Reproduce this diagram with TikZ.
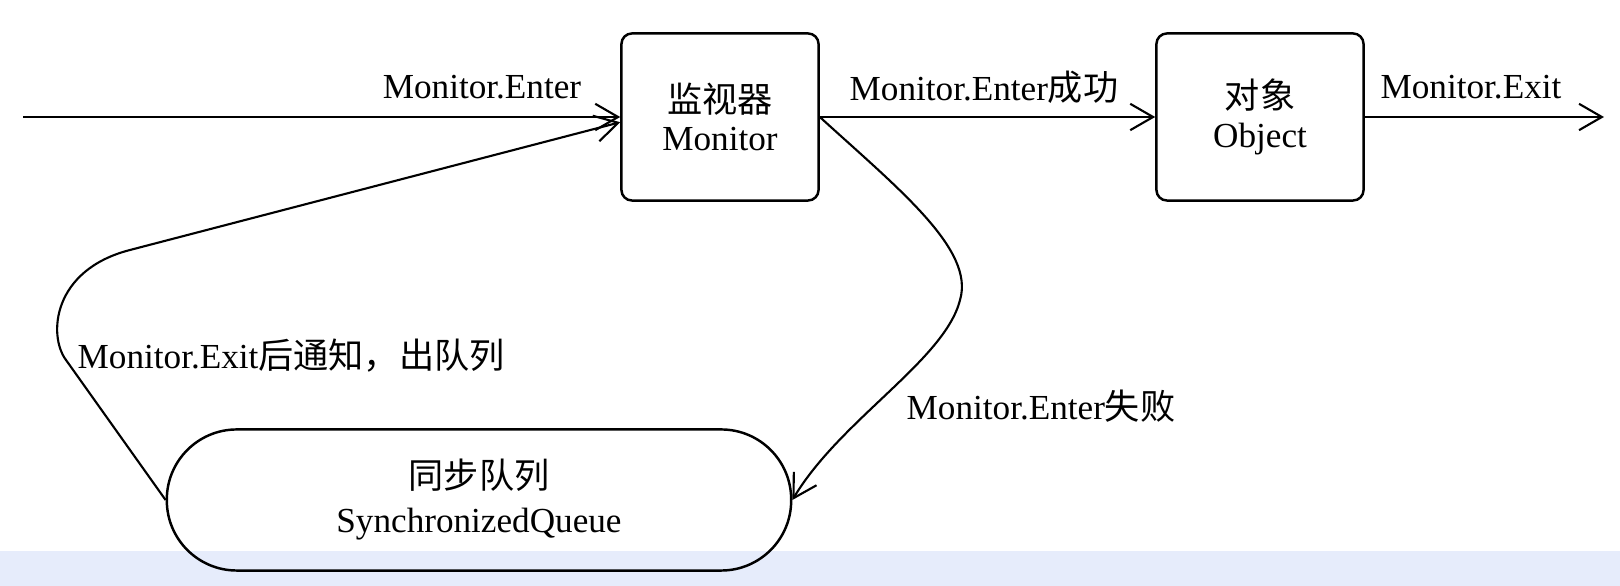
\documentclass[tikz,border=0pt]{standalone}
\usepackage{fontspec}
\setmainfont{Liberation Serif}
\newfontfamily\cjk{Noto Sans CJK SC}
\usepackage{tikz}
\usetikzlibrary{arrows.meta}

\definecolor{bandblue}{RGB}{230,236,251}

\tikzset{
  flow/.style={line width=0.6pt, -{Straight Barb[length=6.5pt,width=7.5pt]}},
  box/.style={draw, line width=0.7pt, rounded corners=3pt, align=center,
    minimum height=1.67cm, font=\fontsize{10}{11}\selectfont},
  queuebox/.style={draw, line width=0.7pt, rounded corners=0.7cm, align=center,
    minimum width=6.24cm, minimum height=1.41cm, font=\fontsize{10}{12.5}\selectfont},
  lbl/.style={inner sep=0pt, font=\fontsize{10}{12}\selectfont}
}

\begin{document}
\begin{tikzpicture}[x=0.01cm, y=-0.01cm]
        \useasboundingbox (0,0) rectangle (1620,586);
        % Background band
        \fill[bandblue] (0,551) rectangle (1620,586);

        % Monitor and object
        \node[box, minimum width=1.97cm] (mon) at (720,117) {\cjk{监视器}\\Monitor};
        \node[box, minimum width=2.07cm] (obj) at (1260,117) {\cjk{对象}\\Object};

        % Synchronized queue
        \node[queuebox] (queue) at (479,500) {\cjk{同步队列}\\SynchronizedQueue};

        % Free ends
        \coordinate (in) at (23,117);
        \coordinate (out) at (1604,117);

        % Main flow
        \draw[flow] (in) -- (mon.west);
        \draw[flow] (mon.east) -- (obj.west);
        \draw[flow] (obj.east) -- (out);
        \node[lbl] (lenter) at (482,87) {Monitor.Enter};
        \node[lbl] (lok) at (984,87) {Monitor.Enter\cjk{成功}};
        \node[lbl] (lexit) at (1471,87) {Monitor.Exit};

        % Enter fails: into the queue
        \draw[flow] (mon.east) .. controls (900,190) and (975,250) .. (960,300)
            .. controls (945,360) and (840,420) .. (queue.east);
        \node[lbl, anchor=west] (lfail) at (906,406) {Monitor.Enter\cjk{失败}};

        % Notified: back to the monitor
        \draw[flow] (queue.west) -- (66,360) .. controls (48,336) and (52,270) .. (130,250)
            -- (mon.183);
        \node[lbl, anchor=west] (lnotify) at (77,356) {Monitor.Exit\cjk{后通知，出队列}};

    \end{tikzpicture}
\end{document}
